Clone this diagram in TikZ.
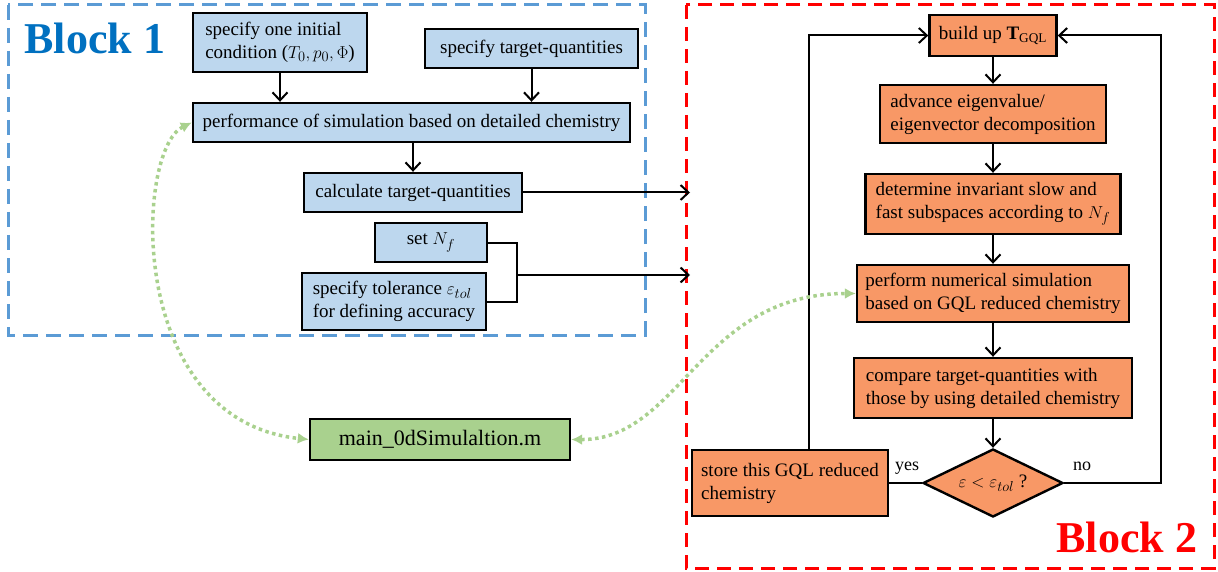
\documentclass[tikz,border=0pt]{standalone}
\usepackage{fontspec}
\setmainfont{Liberation Serif}
\usetikzlibrary{shapes.geometric,arrows.meta}
\definecolor{boxblue}{RGB}{189,215,238}
\definecolor{boxorange}{RGB}{248,152,102}
\definecolor{boxgreen}{RGB}{169,209,142}
\definecolor{frameblue}{RGB}{91,155,213}
\definecolor{titleblue}{RGB}{0,112,192}
\begin{document}
\begin{tikzpicture}
[x=1pt,y=-1pt,
  bluebox/.style={draw,line width=2.4pt,fill=boxblue,inner sep=0pt,align=left,font=\fontsize{19pt}{23pt}\selectfont},%
  orangebox/.style={bluebox,fill=boxorange},%
  arrowdecorate/.style={->,>={Straight Barb[length=8pt,width=15pt]},line width=2pt},%
  linkdecorate/.style={{Latex[length=11pt,width=11pt]}-{Latex[length=11pt,width=11pt]},draw=boxgreen,line width=3.5pt,dash pattern=on 3.5pt off 3.5pt},%
  titledecorate/.style={anchor=base west,font=\fontsize{44pt}{44pt}\bfseries}]
\useasboundingbox (0,0) rectangle (1218,572);
% frames
\draw[frameblue,line width=3pt,dash pattern=on 15pt off 8pt] (8,5) rectangle (645,335);
\draw[red,line width=3pt,dash pattern=on 14pt off 8pt] (686,5) rectangle (1214,568);
\node (titleA) at (21,54) [titledecorate,titleblue] {Block 1};
\node (titleB) at (1053,552) [titledecorate,red] {Block 2};
% block 1 nodes
\node (init) at (280,42.5) [bluebox,minimum width=174pt,minimum height=59pt] {specify one initial\\condition ($T_0,p_0,\Phi$)};
\node (target) at (531.5,48.5) [bluebox,minimum width=213pt,minimum height=39pt] {specify target-quantities};
\node (perf) at (411.5,122.5) [bluebox,minimum width=437pt,minimum height=39pt] {performance of simulation based on detailed chemistry};
\node (calc) at (413,192.5) [bluebox,minimum width=218pt,minimum height=39pt] {calculate target-quantities};
\node (setNf) at (431,242.5) [bluebox,minimum width=112pt,minimum height=39pt] {set $N_f$};
\node (tol) at (394,301.5) [bluebox,minimum width=184pt,minimum height=57pt] {specify tolerance $\varepsilon_{tol}$\\for defining accuracy};
\node (main) at (440,439.5) [bluebox,fill=boxgreen,minimum width=260pt,minimum height=41pt,font=\fontsize{22pt}{26pt}\selectfont] {main\_0dSimulaltion.m};
% block 2 nodes
\node (build) at (993,35.5) [orangebox,minimum width=127pt,minimum height=41pt] {build up \textbf{T}\textsubscript{GQL}};
\node (advance) at (993,114) [orangebox,minimum width=226pt,minimum height=58pt] {advance eigenvalue/\\eigenvector decomposition};
\node (determine) at (993,204) [orangebox,minimum width=255pt,minimum height=60pt] {determine invariant slow and\\fast subspaces according to $N_f$};
\node (perform) at (993,293.5) [orangebox,minimum width=272pt,minimum height=57pt] {perform numerical simulation\\based on GQL reduced chemistry};
\node (compare) at (993,388) [orangebox,minimum width=278pt,minimum height=60pt] {compare target-quantities with\\those by using detailed chemistry};
\node (check) at (993,483) [orangebox,shape=diamond,minimum width=140pt,minimum height=68pt,aspect=2] {$\varepsilon<\varepsilon_{tol}$ ?};
\node (store) at (790,483) [orangebox,minimum width=196pt,minimum height=66pt] {store this GQL reduced\\chemistry};
\node (yes) at (907,470) [anchor=base,font=\fontsize{18pt}{18pt}\selectfont] {yes};
\node (no) at (1082,470) [anchor=base,font=\fontsize{18pt}{18pt}\selectfont] {no};
% helper points
\coordinate (inA) at (690,192.5);
\coordinate (inB) at (690,275);
\coordinate (join) at (517,275);
\coordinate (loopL) at (809,35.5);
\coordinate (loopR) at (1161,35.5);
% edges or lines
\path
(init.south) edge[arrowdecorate] (init.south |- perf.north)
(target.south) edge[arrowdecorate] (target.south |- perf.north)
(calc.north |- perf.south) edge[arrowdecorate] (calc.north)
(calc.east) edge[arrowdecorate] (inA)
(join) edge[arrowdecorate] (inB)
(build) edge[arrowdecorate] (advance)
(advance) edge[arrowdecorate] (determine)
(determine) edge[arrowdecorate] (perform)
(perform) edge[arrowdecorate] (compare)
(compare) edge[arrowdecorate] (check);
\draw[line width=2pt] (setNf.east) -| (join |- tol.east) -- (tol.east);
\draw[line width=2pt] (store.east) -- (check.west);
\draw[arrowdecorate] (loopL |- store.north) -- (loopL) -- (build.west);
\draw[arrowdecorate] (check.east) -| (loopR) -- (build.east);
% links to main file
\draw[linkdecorate] (perf.west) .. controls (135,150) and (125,420) .. (main.west);
\draw[linkdecorate] (main.east) .. controls (680,440) and (700,293.5) .. (perform.west);
\end{tikzpicture}
\end{document}
